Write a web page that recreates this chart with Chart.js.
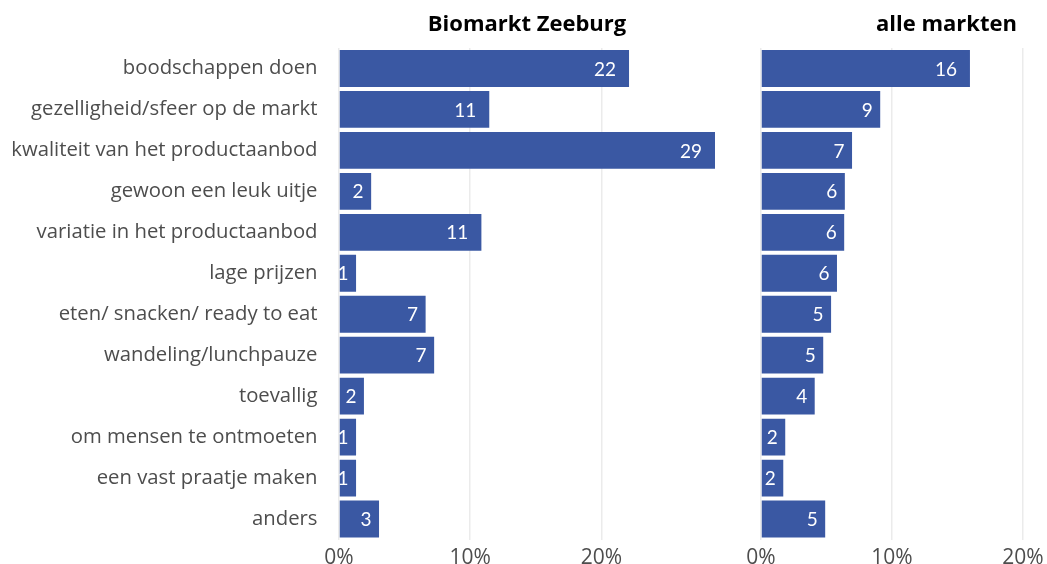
<!DOCTYPE html>
<html>
<head>
<meta charset="utf-8">
<script src="https://cdn.jsdelivr.net/npm/chart.js@4/dist/chart.umd.min.js"></script>
<style>
  html, body { margin: 0; padding: 0; background: #fff; }
  #wrap { position: relative; width: 1047px; height: 564px; overflow: hidden; }
  #c1 { position: absolute; left: 0; top: 0; }
  #c2 { position: absolute; left: 740px; top: 0; }
</style>
</head>
<body>
<div id="wrap">
  <canvas id="c1" width="740" height="564"></canvas>
  <canvas id="c2" width="307" height="564"></canvas>
</div>
<script>
const categories = [
  "boodschappen doen",
  "gezelligheid/sfeer op de markt",
  "kwaliteit van het productaanbod",
  "gewoon een leuk uitje",
  "variatie in het productaanbod",
  "lage prijzen",
  "eten/ snacken/ ready to eat",
  "wandeling/lunchpauze",
  "toevallig",
  "om mensen te ontmoeten",
  "een vast praatje maken",
  "anders"
];
const panelTitles = ["Biomarkt Zeeburg", "alle markten"];
const zeeburgValues = [22.1, 11.45, 28.65, 2.45, 10.85, 1.3, 6.6, 7.25, 1.9, 1.3, 1.3, 3.05];
const alleValues = [15.95, 9.1, 6.95, 6.4, 6.35, 5.8, 5.35, 4.75, 4.1, 1.85, 1.7, 4.9];
const tickValues = [0, 10, 20];

const BAR = '#3a58a3';
const GRID = '#ebebeb';
const TXT = '#4d4d4d';

const valueLabels = {
  id: 'valueLabels',
  afterDatasetsDraw(chart) {
    const ctx = chart.ctx;
    const a = chart.chartArea;
    ctx.save();
    ctx.beginPath();
    ctx.rect(a.left, a.top, a.right - a.left, a.bottom - a.top);
    ctx.clip();
    ctx.font = '19px Lato';
    ctx.fillStyle = '#ffffff';
    ctx.textAlign = 'right';
    ctx.textBaseline = 'middle';
    const meta = chart.getDatasetMeta(0);
    const data = chart.data.datasets[0].data;
    meta.data.forEach((bar, i) => {
      const txt = String(Math.round(data[i]));
      const w = ctx.measureText(txt).width;
      ctx.fillText(txt, bar.x - w * 0.5 - 2, bar.y + 1);
    });
    ctx.restore();
  }
};

const panelTitle = {
  id: 'panelTitle',
  afterDraw(chart, args, opts) {
    const ctx = chart.ctx;
    const a = chart.chartArea;
    ctx.save();
    ctx.font = 'bold 22px "Open Sans"';
    ctx.fillStyle = '#000000';
    ctx.textBaseline = 'middle';
    if (opts.align === 'center') {
      ctx.textAlign = 'center';
      ctx.fillText(opts.text, (a.left + a.right) / 2, 25);
    } else {
      ctx.textAlign = 'right';
      ctx.fillText(opts.text, a.right - opts.offset, 25);
    }
    ctx.restore();
  }
};

function makeChart(id, values, title, opts) {
  return new Chart(document.getElementById(id), {
    type: 'bar',
    data: {
      labels: categories,
      datasets: [{
        data: values,
        backgroundColor: BAR,
        borderWidth: 0,
        barPercentage: 0.9,
        categoryPercentage: 1.0
      }]
    },
    plugins: [valueLabels, panelTitle],
    options: {
      indexAxis: 'y',
      responsive: false,
      animation: false,
      layout: { padding: opts.padding },
      plugins: {
        legend: { display: false },
        tooltip: { enabled: false },
        title: { display: false },
        panelTitle: { text: title, align: opts.titleAlign, offset: opts.titleOffset || 0 }
      },
      scales: {
        x: {
          type: 'linear',
          min: 0,
          max: opts.max,
          grid: { color: GRID, lineWidth: 1.5, drawTicks: false },
          border: { display: false },
          ticks: {
            stepSize: 10,
            padding: 6,
            color: TXT,
            font: { family: 'Open Sans', size: 21 },
            callback: v => v + '%'
          },
          afterBuildTicks(scale) {
            scale.ticks = tickValues.filter(v => v <= scale.max).map(v => ({ value: v }));
          },
          afterFit(scale) {
            scale.height = 24.5;
            scale.paddingTop = 0;
            scale.paddingBottom = 0;
            scale.paddingLeft = 0;
            scale.paddingRight = 0;
          }
        },
        y: {
          display: opts.showY,
          grid: { display: false, drawTicks: false },
          border: { display: false },
          ticks: {
            padding: 21.5,
            color: TXT,
            font: { family: 'Open Sans', size: 20.3 }
          },
          afterFit(scale) {
            if (opts.showY) scale.width = 339;
            scale.paddingTop = 0;
            scale.paddingBottom = 0;
          }
        }
      }
    }
  });
}

makeChart('c1', zeeburgValues, panelTitles[0], {
  padding: { left: 0, right: 25, top: 48, bottom: 0 },
  max: Math.max(...zeeburgValues),
  titleAlign: 'center',
  showY: true
});
makeChart('c2', alleValues, panelTitles[1], {
  padding: { left: 21, right: 24, top: 48, bottom: 0 },
  max: 20,
  titleAlign: 'end',
  titleOffset: 6,
  showY: false
});
</script>
</body>
</html>
